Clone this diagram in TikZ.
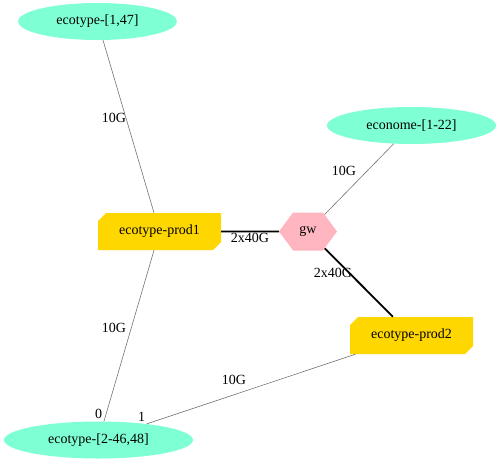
\documentclass[tikz,border=0pt]{standalone}
\usepackage{fontspec}
\setmainfont{Liberation Serif}
\usetikzlibrary{shapes.geometric, shapes.misc, shapes.symbols}
\definecolor{aquamarine}{HTML}{7FFFD4}
\definecolor{gold}{HTML}{FFD700}
\definecolor{lpink}{HTML}{FFB6C1}

\begin{document}
\begin{tikzpicture}[x=1pt, y=-1pt,
  every node/.style={font=\fontsize{14}{16}\selectfont},
  hostset/.style={ellipse, fill=aquamarine, inner sep=0pt, minimum height=37pt},
  router/.style={chamfered rectangle, chamfered rectangle corners={north west, south east},
    chamfered rectangle xsep=4pt, chamfered rectangle ysep=4pt, fill=gold,
    inner sep=0pt, minimum width=123pt, minimum height=37pt},
  gwnode/.style={signal, signal to=east and west, signal pointer angle=107, fill=lpink,
    inner sep=0pt, minimum width=58pt, minimum height=38pt},
  link/.style={draw=black!55, line width=0.6pt},
  trunk/.style={draw=black, line width=1.8pt},
  lbl/.style={inner sep=0pt},
]
\useasboundingbox (0,0) rectangle (500,463);

% Nodes
\node[hostset, minimum width=159pt] (eco1) at (97.5,21.5) {ecotype-[1,47]};
\node[hostset, minimum width=169pt] (econome) at (411.5,125.5) {econome-[1-22]};
\node[router] (prod1) at (159.5,231.5) {ecotype-prod1};
\node[gwnode] (gw) at (308,231.5) {gw};
\node[router] (prod2) at (411.5,335.5) {ecotype-prod2};
\node[hostset, minimum width=189pt] (eco2) at (98.5,440) {ecotype-[2-46,48]};

% Links
\draw[link] (eco1) -- (prod1);
\draw[link] (econome) -- (gw);
\draw[trunk] (prod1) -- (gw);
\draw[trunk] (gw) -- (prod2);
\draw[link] (prod1) -- (eco2);
\draw[link] (prod2) -- (eco2);

% Labels
\node[lbl] (l1) at (114,118) {10G};
\node[lbl] (l2) at (344,171) {10G};
\node[lbl] (l3) at (250,238) {2x40G};
\node[lbl] (l4) at (333,273) {2x40G};
\node[lbl] (l5) at (114,328) {10G};
\node[lbl] (l6) at (234,380) {10G};
\node[lbl] (l7) at (98.5,413.5) {0};
\node[lbl] (l8) at (141.5,416.5) {1};
\end{tikzpicture}
\end{document}
